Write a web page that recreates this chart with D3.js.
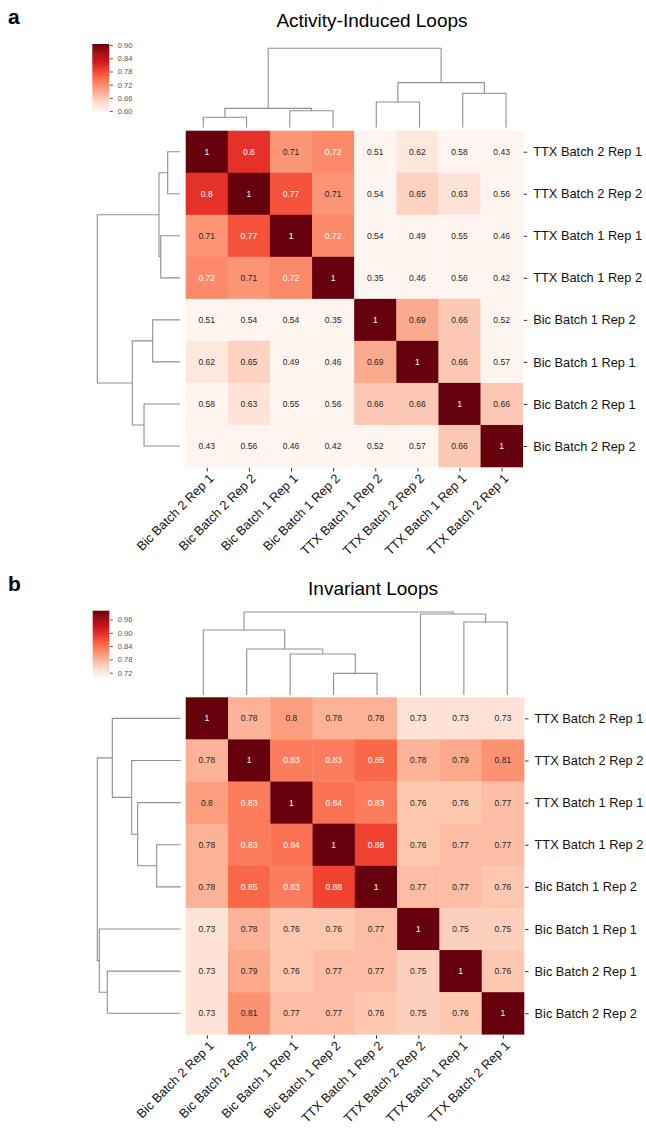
<!DOCTYPE html>
<html>
<head>
<meta charset="utf-8">
<title>Activity-Induced and Invariant Loops</title>
<script src="https://d3js.org/d3.v7.min.js"></script>
<style>
  body { margin: 0; background: #fff; }
  text { font-family: "Liberation Sans", Arial, sans-serif; }
</style>
</head>
<body>
<script>
// ---- data ----
var colLabels = ["Bic Batch 2 Rep 1", "Bic Batch 2 Rep 2", "Bic Batch 1 Rep 1", "Bic Batch 1 Rep 2",
                 "TTX Batch 1 Rep 2", "TTX Batch 2 Rep 2", "TTX Batch 1 Rep 1", "TTX Batch 2 Rep 1"];

var rowLabelsA = ["TTX Batch 2 Rep 1", "TTX Batch 2 Rep 2", "TTX Batch 1 Rep 1", "TTX Batch 1 Rep 2",
                  "Bic Batch 1 Rep 2", "Bic Batch 1 Rep 1", "Bic Batch 2 Rep 1", "Bic Batch 2 Rep 2"];
var rowLabelsB = ["TTX Batch 2 Rep 1", "TTX Batch 2 Rep 2", "TTX Batch 1 Rep 1", "TTX Batch 1 Rep 2",
                  "Bic Batch 1 Rep 2", "Bic Batch 1 Rep 1", "Bic Batch 2 Rep 1", "Bic Batch 2 Rep 2"];

var valuesA = [
  [1, 0.8, 0.71, 0.72, 0.51, 0.62, 0.58, 0.43],
  [0.8, 1, 0.77, 0.71, 0.54, 0.65, 0.63, 0.56],
  [0.71, 0.77, 1, 0.72, 0.54, 0.49, 0.55, 0.46],
  [0.72, 0.71, 0.72, 1, 0.35, 0.46, 0.56, 0.42],
  [0.51, 0.54, 0.54, 0.35, 1, 0.69, 0.66, 0.52],
  [0.62, 0.65, 0.49, 0.46, 0.69, 1, 0.66, 0.57],
  [0.58, 0.63, 0.55, 0.56, 0.66, 0.66, 1, 0.66],
  [0.43, 0.56, 0.46, 0.42, 0.52, 0.57, 0.66, 1]
];
var valuesB = [
  [1, 0.78, 0.8, 0.78, 0.78, 0.73, 0.73, 0.73],
  [0.78, 1, 0.83, 0.83, 0.85, 0.78, 0.79, 0.81],
  [0.8, 0.83, 1, 0.84, 0.83, 0.76, 0.76, 0.77],
  [0.78, 0.83, 0.84, 1, 0.88, 0.76, 0.77, 0.77],
  [0.78, 0.85, 0.83, 0.88, 1, 0.77, 0.77, 0.76],
  [0.73, 0.78, 0.76, 0.76, 0.77, 1, 0.75, 0.75],
  [0.73, 0.79, 0.76, 0.77, 0.77, 0.75, 1, 0.76],
  [0.73, 0.81, 0.77, 0.77, 0.76, 0.75, 0.76, 1]
];

var colorRangeA = [0.597, 0.905];
var colorTicksA = [0.60, 0.66, 0.72, 0.78, 0.84, 0.90];
var colorRangeB = [0.696, 1.0];
var colorTicksB = [0.72, 0.78, 0.84, 0.90, 0.96];

// linkage rows: [child, child, distance]; leaves are 0..7, merges become 8, 9, ...
var colLinkA = [[0, 1, 0.129], [2, 3, 0.212], [8, 9, 0.242], [4, 5, 0.322], [6, 7, 0.432], [11, 12, 0.566], [10, 13, 1]];
var rowLinkA = [[0, 1, 0.149], [2, 3, 0.233], [8, 9, 0.254], [4, 5, 0.33], [6, 7, 0.435], [11, 12, 0.577], [10, 13, 1]];
var colLinkB = [[3, 4, 0.261], [2, 8, 0.494], [1, 9, 0.554], [0, 10, 0.783], [6, 7, 0.88], [5, 12, 0.976], [11, 13, 1]];
var rowLinkB = [[3, 4, 0.288], [2, 8, 0.516], [1, 9, 0.588], [0, 10, 0.82], [6, 7, 0.88], [5, 12, 0.976], [11, 13, 1]];

// ---- drawing ----
var reds = ["#fff5f0", "#fee0d2", "#fcbba1", "#fc9272", "#fb6a4a", "#ef3b2c", "#cb181d", "#a50f15", "#67000d"];
var fmtCell = d3.format(".2~g");
var fmtTick = d3.format(".2f");
var labelSize = 12.8;

var svg = d3.select("body").append("svg")
    .attr("width", 646)
    .attr("height", 1132);

function luminance(c) {
  var rgb = d3.rgb(c);
  var lin = [rgb.r, rgb.g, rgb.b].map(function(v) {
    v = v / 255;
    return v <= 0.03928 ? v / 12.92 : Math.pow((v + 0.055) / 1.055, 2.4);
  });
  return 0.2126 * lin[0] + 0.7152 * lin[1] + 0.0722 * lin[2];
}

function drawDendro(g, link, leafPos, hScale, vertical) {
  var pos = d3.range(8).map(leafPos);
  var hgt = d3.range(8).map(function() { return 0; });
  link.forEach(function(m) {
    var a = m[0], b = m[1], h = m[2];
    var pa = pos[a], pb = pos[b];
    var d;
    if (vertical) {
      d = "M" + pa + "," + hScale(hgt[a]) + "V" + hScale(h) + "H" + pb + "V" + hScale(hgt[b]);
    } else {
      d = "M" + hScale(hgt[a]) + "," + pa + "H" + hScale(h) + "V" + pb + "H" + hScale(hgt[b]);
    }
    g.append("path").attr("d", d)
      .attr("fill", "none")
      .attr("stroke", "#8f8f8f")
      .attr("stroke-width", 1.1);
    pos.push((pa + pb) / 2);
    hgt.push(h);
  });
}

function drawPanel(o) {
  var g = svg.append("g");

  var x = d3.scaleBand().domain(d3.range(8)).range([o.hm[0], o.hm[0] + o.hm[2]]);
  var y = d3.scaleBand().domain(d3.range(8)).range([o.hm[1], o.hm[1] + o.hm[3]]);
  var color = d3.scaleLinear()
      .domain(d3.range(9).map(function(i) { return o.range[0] + (o.range[1] - o.range[0]) * i / 8; }))
      .range(reds)
      .clamp(true);

  // letter and title
  g.append("text").attr("x", o.letter[0]).attr("y", o.letter[1])
    .attr("font-size", 21).attr("font-weight", "bold").attr("fill", "#000")
    .text(o.letterText);
  g.append("text").attr("x", o.title[0]).attr("y", o.title[1])
    .attr("text-anchor", "middle").attr("font-size", 19).attr("fill", "#000")
    .text(o.titleText);

  // cells
  var cells = [];
  o.values.forEach(function(row, i) {
    row.forEach(function(v, j) { cells.push({ r: i, c: j, v: v }); });
  });
  g.selectAll("rect.cell").data(cells).enter().append("rect")
    .attr("class", "cell")
    .attr("x", function(d) { return x(d.c); })
    .attr("y", function(d) { return y(d.r); })
    .attr("width", x.bandwidth() + 0.3)
    .attr("height", y.bandwidth() + 0.3)
    .attr("fill", function(d) { return color(d.v); });
  g.selectAll("text.cell").data(cells).enter().append("text")
    .attr("class", "cell")
    .attr("x", function(d) { return x(d.c) + x.bandwidth() / 2; })
    .attr("y", function(d) { return y(d.r) + y.bandwidth() / 2; })
    .attr("dy", "0.35em")
    .attr("text-anchor", "middle")
    .attr("font-size", 8.5)
    .attr("fill", function(d) { return luminance(color(d.v)) > 0.408 ? "#262626" : "#ffffff"; })
    .text(function(d) { return fmtCell(d.v); });

  // right row axis
  var yAxis = d3.axisRight(d3.scalePoint().domain(o.rowLabels.map(function(l, i) { return i; }))
      .range([y(0) + y.bandwidth() / 2, y(7) + y.bandwidth() / 2]))
    .tickSize(3.5).tickPadding(6)
    .tickFormat(function(i) { return o.rowLabels[i]; });
  var ya = g.append("g").attr("transform", "translate(" + (o.hm[0] + o.hm[2] + 1) + ",0)").call(yAxis);
  ya.select(".domain").remove();
  ya.selectAll("line").attr("stroke", "#333");
  ya.selectAll("text").attr("font-size", labelSize).attr("fill", "#111")
    .attr("font-family", "Liberation Sans, Arial, sans-serif");

  // bottom column axis
  var xAxis = d3.axisBottom(d3.scalePoint().domain(d3.range(8))
      .range([x(0) + x.bandwidth() / 2, x(7) + x.bandwidth() / 2]))
    .tickSize(3.5)
    .tickFormat(function(i) { return colLabels[i]; });
  var xa = g.append("g").attr("transform", "translate(0," + (o.hm[1] + o.hm[3] + 1) + ")").call(xAxis);
  xa.select(".domain").remove();
  xa.selectAll("line").attr("stroke", "#333");
  xa.selectAll("text")
    .attr("font-size", labelSize).attr("fill", "#111")
    .attr("font-family", "Liberation Sans, Arial, sans-serif")
    .attr("text-anchor", "end")
    .attr("dy", "0.35em")
    .attr("transform", "translate(4,8) rotate(-45)")
    .attr("y", 0).attr("x", 0);

  // dendrograms
  var colLeaf = d3.scalePoint().domain(d3.range(8)).range(o.colLeaves);
  var colH = d3.scaleLinear().domain([0, 1]).range(o.colHeights);
  drawDendro(g, o.colLink, colLeaf, colH, true);
  var rowH = d3.scaleLinear().domain([0, 1]).range(o.rowHeights);
  drawDendro(g, o.rowLink, function(i) { return y(i) + y.bandwidth() / 2; }, rowH, false);

  // colour bar
  var cb = o.cbar;
  var gradId = "grad" + o.letterText;
  var grad = svg.append("defs").append("linearGradient").attr("id", gradId)
    .attr("x1", 0).attr("y1", 1).attr("x2", 0).attr("y2", 0);
  d3.range(0, 1.0001, 0.05).forEach(function(t) {
    grad.append("stop").attr("offset", t)
      .attr("stop-color", color(o.range[0] + t * (o.range[1] - o.range[0])));
  });
  g.append("rect").attr("x", cb[0]).attr("y", cb[1]).attr("width", cb[2]).attr("height", cb[3])
    .attr("fill", "url(#" + gradId + ")");
  var cbScale = d3.scaleLinear().domain(o.range).range([cb[1] + cb[3], cb[1]]);
  var cbAxis = d3.axisRight(cbScale).tickValues(o.ticks).tickFormat(fmtTick).tickSize(3).tickPadding(5);
  var ca = g.append("g").attr("transform", "translate(" + (cb[0] + cb[2] + 0.5) + ",0)").call(cbAxis);
  ca.select(".domain").remove();
  ca.selectAll("line").attr("stroke", "#555");
  ca.selectAll("text").attr("font-size", 7.5).attr("fill", "#555")
    .attr("font-family", "Liberation Sans, Arial, sans-serif");
}

drawPanel({
  letterText: "a", letter: [8, 24],
  titleText: "Activity-Induced Loops", title: [372, 27],
  values: valuesA, rowLabels: rowLabelsA, range: colorRangeA, ticks: colorTicksA,
  colLink: colLinkA, rowLink: rowLinkA,
  hm: [185.7, 130.7, 337, 336.3],
  colLeaves: [203.3, 506], colHeights: [127.5, 48.3],
  rowHeights: [180, 97.3],
  cbar: [92.3, 44, 17, 67.7]
});

drawPanel({
  letterText: "b", letter: [8, 591],
  titleText: "Invariant Loops", title: [373, 595],
  values: valuesB, rowLabels: rowLabelsB, range: colorRangeB, ticks: colorTicksB,
  colLink: colLinkB, rowLink: rowLinkB,
  hm: [185.7, 697.3, 338.3, 337],
  colLeaves: [203.3, 507.3], colHeights: [695, 612],
  rowHeights: [180.7, 97.3],
  cbar: [92.7, 610.7, 16.6, 67.3]
});
</script>
</body>
</html>
